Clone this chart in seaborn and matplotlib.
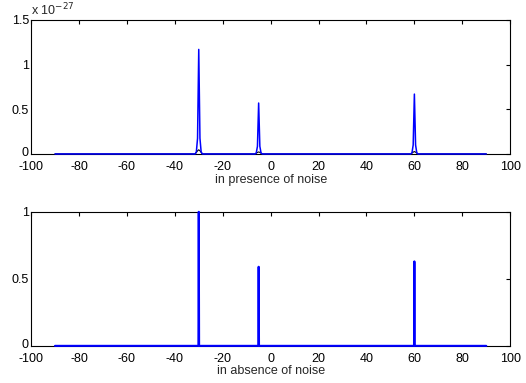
import numpy as np
import pandas as pd
import matplotlib
matplotlib.use("Agg")
import matplotlib.pyplot as plt
import matplotlib.transforms as mtransforms
import seaborn as sns

# spectrum peaks (DOA angles in degrees), heights
peak_angles = [-30, -5, 60]
noisy_heights = [1.17, 0.57, 0.67]      # x 10^-27
clean_heights = [1.0, 0.59, 0.63]

# shape of one peak in the noisy spectrum (relative height at offsets in degrees)
noisy_offsets = [-1.5, -1.0, -0.5, 0.0, 0.5, 1.0, 1.5]
noisy_profile = [0.0, 0.02, 0.15, 1.0, 0.15, 0.02, 0.0]
# faint black curve under each noisy peak
under_offsets = [-1.5, -0.5, 0.0, 0.5, 1.5]
under_profile = [0.0, 0.03, 0.04, 0.03, 0.0]
# the clean spectrum is a thin spike
clean_offsets = [-0.15, 0.0, 0.15]
clean_profile = [0.0, 1.0, 0.0]

scan_start, scan_end = -90, 90
xticks = [-100, -80, -60, -40, -20, 0, 20, 40, 60, 80, 100]


def build(heights, offsets, profile):
    xs, ys = [scan_start], [0.0]
    for a, h in zip(peak_angles, heights):
        for o, p in zip(offsets, profile):
            xs.append(a + o)
            ys.append(h * p)
    xs.append(scan_end)
    ys.append(0.0)
    return pd.DataFrame({"angle": xs, "p": ys})


noisy = build(noisy_heights, noisy_offsets, noisy_profile)
under = build(noisy_heights, under_offsets, under_profile)
clean = build(clean_heights, clean_offsets, clean_profile)

sns.set_style("white")
plt.rcParams['font.family'] = ['Liberation Sans', 'DejaVu Sans']
plt.rcParams['font.size'] = 9

fig = plt.figure(figsize=(5.26, 3.83), dpi=100)
ax1 = fig.add_axes([0.059, 0.598, 0.911, 0.350])
ax2 = fig.add_axes([0.059, 0.097, 0.911, 0.350])

sns.lineplot(data=under, x="angle", y="p", ax=ax1, color="black", lw=0.8, sort=False, estimator=None)
sns.lineplot(data=noisy, x="angle", y="p", ax=ax1, color="#0000ff", lw=1.1, sort=False, estimator=None)
sns.lineplot(data=clean, x="angle", y="p", ax=ax2, color="#0000ff", lw=1.5, sort=False, estimator=None)

for i, ln in enumerate(ax1.lines):
    ln.set_zorder(3 + i)
    ln.set_clip_on(False)
for ln in ax2.lines:
    ln.set_zorder(3)
    ln.set_clip_on(False)

for ax, yt, ytl, ylim, lab in [
    (ax1, [0, 0.5, 1, 1.5], ["0", "0.5", "1", "1.5"], (0, 1.5), "in presence of noise"),
    (ax2, [0, 0.5, 1], ["0", "0.5", "1"], (0, 1), "in absence of noise"),
]:
    ax.set_xlim(-100, 100)
    ax.set_ylim(*ylim)
    ax.set_xticks(xticks)
    ax.set_xticklabels([str(t) for t in xticks])
    ax.set_yticks(yt)
    ax.set_yticklabels(ytl)
    ax.set_xlabel(lab, labelpad=0.5)
    ax.set_ylabel("")
    ax.tick_params(direction="in", length=3, width=0.8, top=True, right=True,
                   colors="black")
    ax.tick_params(axis="x", pad=5)
    ax.tick_params(axis="y", pad=1.5)
    # lift the "0" label a little, as in the original
    zero_lab = ax.get_yticklabels()[0]
    zero_lab.set_transform(zero_lab.get_transform() +
                           mtransforms.ScaledTranslation(0, 2 / 72, fig.dpi_scale_trans))
    for s in ax.spines.values():
        s.set_color("black")
        s.set_linewidth(0.8)

ax1.text(0.0, 1.01, r"x 10$^{-27}$", transform=ax1.transAxes, ha="left", va="bottom", fontsize=9)

fig.savefig("out.png", dpi=100)
